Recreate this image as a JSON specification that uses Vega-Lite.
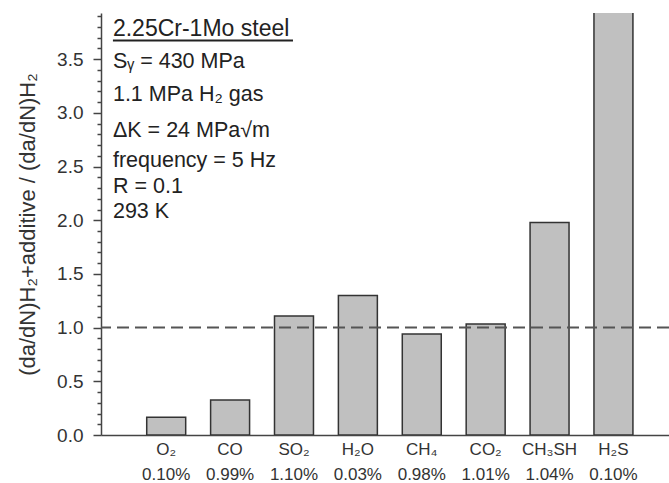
{
  "$schema": "https://vega.github.io/schema/vega-lite/v6.json",
  "width": 568,
  "height": 422,
  "autosize": {"type": "none"},
  "padding": {"left": 101, "top": 13, "right": 0, "bottom": 48},
  "background": "white",
  "config": {"view": {"stroke": null}, "font": "Liberation Sans"},
  "layer": [
    {
      "data": {"values": [
        {"additive": "O₂", "concentration": "0.10%", "ratio": 0.165},
        {"additive": "CO", "concentration": "0.99%", "ratio": 0.326},
        {"additive": "SO₂", "concentration": "1.10%", "ratio": 1.108},
        {"additive": "H₂O", "concentration": "0.03%", "ratio": 1.30},
        {"additive": "CH₄", "concentration": "0.98%", "ratio": 0.94},
        {"additive": "CO₂", "concentration": "1.01%", "ratio": 1.033},
        {"additive": "CH₃SH", "concentration": "1.04%", "ratio": 1.98},
        {"additive": "H₂S", "concentration": "0.10%", "ratio": 4.0}
      ]},
      "transform": [{"calculate": "datum.additive + '|' + datum.concentration", "as": "label"}],
      "mark": {"type": "bar", "fill": "#c0c0c0", "stroke": "#333333", "strokeWidth": 1.5, "clip": true},
      "encoding": {
        "x": {
          "field": "label", "type": "nominal", "sort": null,
          "scale": {"paddingInner": 0.39, "paddingOuter": 0.64, "align": 0.559},
          "axis": {
            "title": null, "ticks": false, "labelAngle": 0,
            "labelExpr": "split(datum.label, '|')",
            "labelFontSize": 17, "labelLineHeight": 25, "labelColor": "#333333",
            "labelPadding": 6, "domainColor": "#444444", "domainWidth": 1.5
          }
        },
        "y": {
          "field": "ratio", "type": "quantitative",
          "scale": {"domain": [0, 3.93], "nice": false},
          "axis": {
            "values": [0, 0.1, 0.2, 0.3, 0.4, 0.5, 0.6, 0.7, 0.8, 0.9, 1.0, 1.1, 1.2, 1.3, 1.4, 1.5, 1.6, 1.7, 1.8, 1.9, 2.0, 2.1, 2.2, 2.3, 2.4, 2.5, 2.6, 2.7, 2.8, 2.9, 3.0, 3.1, 3.2, 3.3, 3.4, 3.5, 3.6, 3.7, 3.8, 3.9],
            "labelExpr": "abs(datum.value*2 - round(datum.value*2)) < 0.001 ? format(datum.value, '.1f') : ''",
            "tickSize": 8,
            "tickDash": {"condition": {"test": "abs(datum.value*2 - round(datum.value*2)) < 0.001", "value": [8, 0]}, "value": [4, 20]},
            "labelOverlap": false,
            "labelFontSize": 19, "labelColor": "#333333", "labelPadding": 10,
            "domainColor": "#444444", "domainWidth": 1.5,
            "tickColor": "#444444", "tickWidth": 1.5,
            "grid": false,
            "title": "(da/dN)H₂+additive / (da/dN)H₂",
            "titleFontSize": 22, "titleFontWeight": "normal", "titleColor": "#333333", "titlePadding": 17
          }
        }
      }
    },
    {
      "data": {"values": [{}]},
      "mark": {"type": "rule", "strokeDash": [12, 6], "color": "#555555", "strokeWidth": 2},
      "encoding": {"y": {"datum": 1, "type": "quantitative", "axis": null}}
    },
    {
      "data": {"values": [{}]},
      "layer": [
        {
          "mark": {"type": "text", "align": "left", "baseline": "alphabetic", "fontSize": 23, "color": "#222222"},
          "encoding": {
            "x": {"datum": 0.021, "type": "quantitative", "scale": {"domain": [0, 1]}, "axis": null},
            "y": {"datum": 3.712, "type": "quantitative", "axis": null},
            "text": {"value": "2.25Cr-1Mo steel"}
          }
        },
        {
          "mark": {"type": "rule", "color": "#222222", "strokeWidth": 2},
          "encoding": {
            "x": {"datum": 0.021, "type": "quantitative", "scale": {"domain": [0, 1]}, "axis": null},
            "x2": {"datum": 0.338},
            "y": {"datum": 3.675, "type": "quantitative", "axis": null}
          }
        },
        {
          "mark": {"type": "text", "align": "left", "baseline": "alphabetic", "fontSize": 21.5, "color": "#222222"},
          "encoding": {
            "x": {"datum": 0.021, "type": "quantitative", "scale": {"domain": [0, 1]}, "axis": null},
            "y": {"datum": 3.42, "type": "quantitative", "axis": null},
            "text": {"value": "Sᵧ = 430 MPa"}
          }
        },
        {
          "mark": {"type": "text", "align": "left", "baseline": "alphabetic", "fontSize": 21.5, "color": "#222222"},
          "encoding": {
            "x": {"datum": 0.021, "type": "quantitative", "scale": {"domain": [0, 1]}, "axis": null},
            "y": {"datum": 3.106, "type": "quantitative", "axis": null},
            "text": {"value": "1.1 MPa H₂ gas"}
          }
        },
        {
          "mark": {"type": "text", "align": "left", "baseline": "alphabetic", "fontSize": 21.5, "color": "#222222"},
          "encoding": {
            "x": {"datum": 0.021, "type": "quantitative", "scale": {"domain": [0, 1]}, "axis": null},
            "y": {"datum": 2.777, "type": "quantitative", "axis": null},
            "text": {"value": "ΔK = 24 MPa√m"}
          }
        },
        {
          "mark": {"type": "text", "align": "left", "baseline": "alphabetic", "fontSize": 21.5, "color": "#222222"},
          "encoding": {
            "x": {"datum": 0.021, "type": "quantitative", "scale": {"domain": [0, 1]}, "axis": null},
            "y": {"datum": 2.5, "type": "quantitative", "axis": null},
            "text": {"value": "frequency = 5 Hz"}
          }
        },
        {
          "mark": {"type": "text", "align": "left", "baseline": "alphabetic", "fontSize": 21.5, "color": "#222222"},
          "encoding": {
            "x": {"datum": 0.021, "type": "quantitative", "scale": {"domain": [0, 1]}, "axis": null},
            "y": {"datum": 2.258, "type": "quantitative", "axis": null},
            "text": {"value": "R = 0.1"}
          }
        },
        {
          "mark": {"type": "text", "align": "left", "baseline": "alphabetic", "fontSize": 21.5, "color": "#222222"},
          "encoding": {
            "x": {"datum": 0.021, "type": "quantitative", "scale": {"domain": [0, 1]}, "axis": null},
            "y": {"datum": 2.02, "type": "quantitative", "axis": null},
            "text": {"value": "293 K"}
          }
        }
      ]
    }
  ],
  "resolve": {"scale": {"x": "independent"}, "axis": {"x": "independent", "y": "independent"}}
}
